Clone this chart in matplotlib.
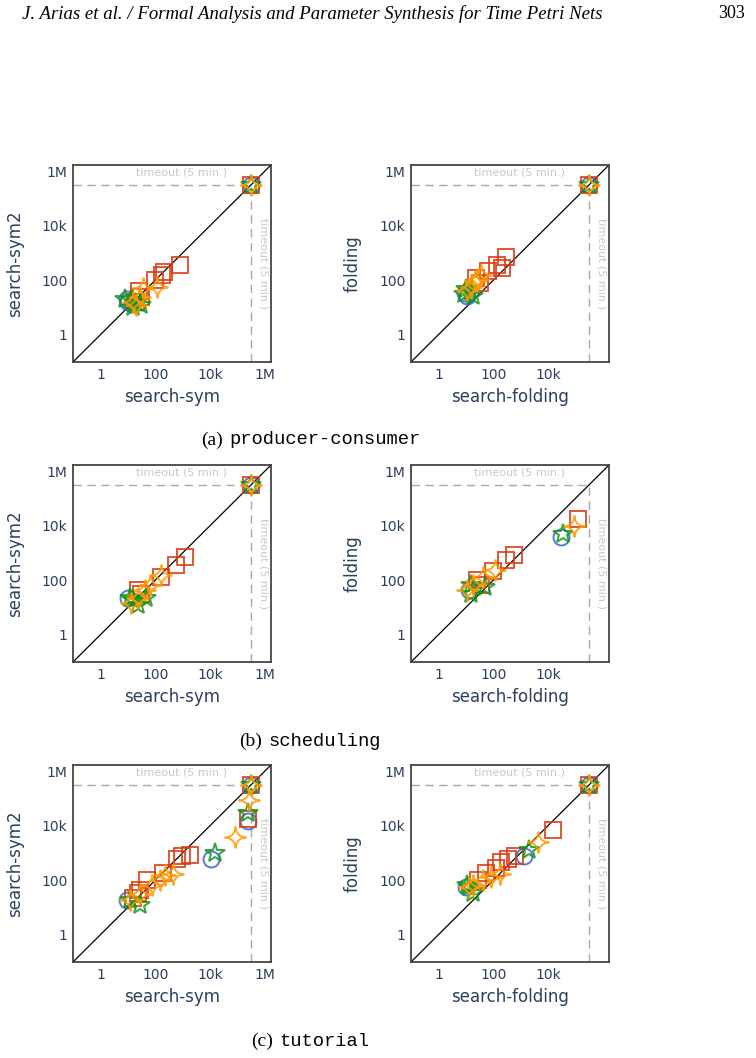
import numpy as np
import matplotlib.pyplot as plt
from matplotlib.path import Path

# timeout = 5 min in ms
TO = 3e5

# one dict per panel: (x values, y values) for each series
# series: blue circles, red squares, green stars, orange 4-point stars
pc_sym = {
    "blue": ([9.5, 10, 14, TO], [21, 16, 13, TO]),
    "red": ([830, 200, 180, 100, 25, 29, 20, TO], [350, 200, 160, 100, 40, 25, 16, TO]),
    "green": ([12.6, 29, 16, 8, 20, TO], [18, 12, 10, 20, 14, TO]),
    "orange": ([117, 37, 16, 28, 20, TO], [54, 50, 16, 25, 12.6, TO]),
}
pc_fold = {
    "blue": ([11, 9, TO], [27, 35, TO]),
    "red": ([280, 135, 200, 65, 24, 33, TO], [680, 370, 290, 210, 115, 76, TO]),
    "green": ([10, 19, 8.3, 14, TO], [49, 27, 32, 40, TO]),
    "orange": ([36, 22, 15, 11, 28, TO], [150, 90, 58, 42, 110, TO]),
}
sch_sym = {
    "blue": ([10.5, TO], [23, TO]),
    "red": ([1230, 575, 166, 24, 31, TO], [680, 370, 126, 42, 30, TO]),
    "green": ([12.3, 24, 47, 16, TO], [23, 12.6, 23, 18, TO]),
    "orange": ([166, 66, 24, 13.5, 44, TO], [148, 69, 23, 15, 42, TO]),
}
sch_fold = {
    "blue": ([30000, 12.6], [3700, 42]),
    "red": ([126000, 590, 300, 98, 26, 36], [17000, 870, 525, 224, 105, 69]),
    "green": ([35000, 15, 16, 50], [4800, 69, 30, 54]),
    "orange": ([85000, 115, 43, 19, 11], [10000, 245, 126, 69, 45]),
}
tut_sym = {
    "blue": ([TO, 240000, 11000, 9.5], [TO, 15000, 575, 18]),
    "red": ([TO, 240000, 1860, 955, 630, 195, 50, 28, 16, 24],
            [TO, 17000, 870, 795, 575, 190, 98, 42, 23, 35]),
    "green": ([TO, 240000, 15000, 12.3, 28], [TO, 30000, 1020, 19.5, 12.6]),
    "orange": ([TO, 263000, 81000, 450, 230, 150, 78, 28, 12.3],
               [TO, 85000, 3700, 162, 148, 98, 69, 30, 18]),
}
tut_fold = {
    "blue": ([TO, 1320, 9.8], [TO, 795, 54]),
    "red": ([TO, 15000, 630, 355, 186, 123, 55, 28], [TO, 6600, 795, 575, 447, 270, 190, 105]),
    "green": ([TO, 2000, 12.6, 19, 10.7], [TO, 1320, 54, 35, 69]),
    "orange": ([TO, 4200, 170, 83, 43, 19, 12.6], [TO, 2400, 162, 126, 98, 69, 54]),
}

tick_vals = [1, 100, 1e4, 1e6]
tick_labels = ["1", "100", "10k", "1M"]
captions = [("(a)", "producer-consumer"), ("(b)", "scheduling"), ("(c)", "tutorial")]

# 4-point star with concave arcs (like plotly star-diamond)
t = np.linspace(0, np.pi / 2, 12)
pts = []
for cx, cy, a0 in [(1, 1, np.pi), (1, -1, 0.5 * np.pi), (-1, -1, 0), (-1, 1, 1.5 * np.pi)]:
    for a in t:
        pts.append((cx + np.cos(a0 + a), cy + np.sin(a0 + a)))
pts.append(pts[0])
star4 = Path(pts, closed=True)

style = {
    "blue": dict(marker="o", color="#3366CC", ms=11.5),
    "red": dict(marker="s", color="#DC3912", ms=11.5),
    "green": dict(marker="*", color="#109618", ms=15),
    "orange": dict(marker=star4, color="#FF9900", ms=15),
}

TXT = "#2a3f5f"
fig = plt.figure(figsize=(7.56, 10.58), dpi=100)

fig.text(22 / 756, 1 - 14 / 1058, "J. Arias et al. / Formal Analysis and Parameter Synthesis for Time Petri Nets",
         family="Liberation Serif", style="italic", fontsize=13.5, va="center", ha="left")
fig.text(745 / 756, 1 - 14 / 1058, "303", family="Liberation Serif", fontsize=13, va="center", ha="right")

panels = [(pc_sym, pc_fold), (sch_sym, sch_fold), (tut_sym, tut_fold)]
row_bottom = [1 - 362 / 1058, 1 - 662 / 1058, 1 - 962 / 1058]
cap_y = [440, 741, 1041]
lo, hi = 10 ** -1.0, 10 ** 6.22

for r, (left_data, right_data) in enumerate(panels):
    for c, data in enumerate([left_data, right_data]):
        x0 = 73 if c == 0 else 411
        ax = fig.add_axes([x0 / 756, row_bottom[r], 198 / 756, 197 / 1058])
        ax.set_xscale("log")
        ax.set_yscale("log")
        ax.set_xlim(lo, hi)
        ax.set_ylim(lo, hi)
        ax.plot([lo, hi], [lo, hi], color="black", lw=0.9, zorder=1)
        ax.plot([lo, TO], [TO, TO], color="#a8a8a8", lw=1.0, ls=(0, (6, 4)), zorder=1)
        ax.plot([TO, TO], [lo, TO], color="#a8a8a8", lw=1.0, ls=(0, (6, 4)), zorder=1)
        ax.text(0.547, 0.963, "timeout (5 min.)", transform=ax.transAxes, color="#c8c8c8",
                fontsize=8, ha="center", va="center")
        ax.text(0.96, 0.5, "timeout (5 min.)", transform=ax.transAxes, color="#c8c8c8",
                fontsize=8, ha="center", va="center", rotation=-90)
        for name in ["blue", "red", "green", "orange"]:
            xs, ys = data[name]
            st = style[name]
            ax.plot(xs, ys, ls="none", marker=st["marker"], ms=st["ms"], mfc="none",
                    mec=st["color"], mew=1.4, alpha=0.85, zorder=3)
        if c == 0:
            ax.set_xticks(tick_vals, labels=tick_labels)
        else:
            ax.set_xticks(tick_vals[:3], labels=tick_labels[:3])
        ax.set_yticks(tick_vals, labels=tick_labels)
        ax.minorticks_off()
        ax.tick_params(length=0, labelsize=10, labelcolor=TXT, pad=4)
        for sp in ax.spines.values():
            sp.set_color("#444444")
            sp.set_linewidth(1.3)
        ax.set_xlabel("search-sym" if c == 0 else "search-folding", fontsize=12, color=TXT, va="center")
        ax.set_ylabel("search-sym2" if c == 0 else "folding", fontsize=12, color=TXT, va="center")
        ax.xaxis.set_label_coords(0.5, -0.178)
        ax.yaxis.set_label_coords(-0.294, 0.5)

    lab, name = captions[r]
    w = 29 + 11.25 * len(name)
    start = 310 - w / 2
    fig.text((start + 23) / 756, 1 - cap_y[r] / 1058, lab, family="Liberation Serif", fontsize=14,
             ha="right", va="center")
    fig.text((start + 29) / 756, 1 - cap_y[r] / 1058, name, family="Liberation Mono", fontsize=13.5,
             ha="left", va="center")

fig.savefig("out.png", dpi=100)
